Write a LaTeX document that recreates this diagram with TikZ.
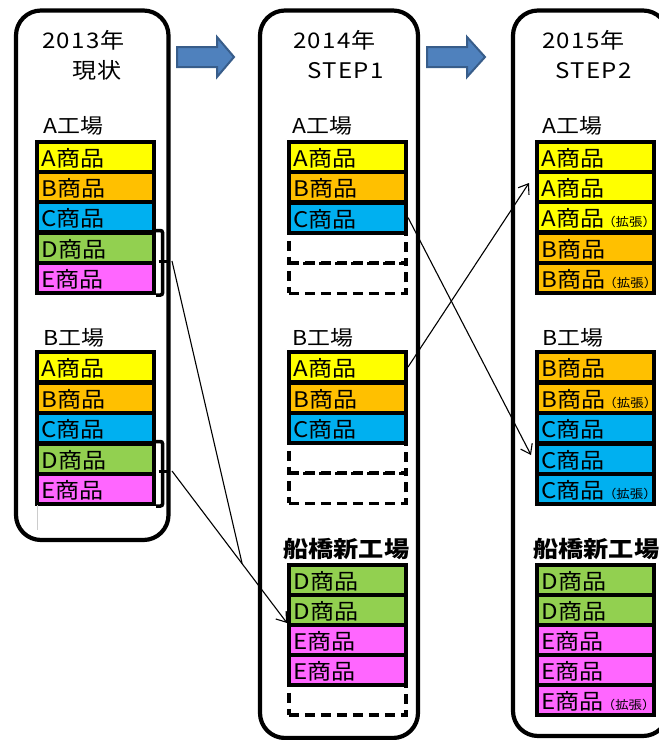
\documentclass[tikz,border=0pt]{standalone}
\usepackage{fontspec}
\setmainfont{Noto Sans CJK JP}[FakeStretch=1.12]
\usetikzlibrary{arrows.meta,calc}
\definecolor{cA}{HTML}{FFFF00}
\definecolor{cB}{HTML}{FFC000}
\definecolor{cC}{HTML}{00B0F0}
\definecolor{cD}{HTML}{92D050}
\definecolor{cE}{HTML}{FF66FF}
\definecolor{arrfill}{HTML}{4F81BD}
\definecolor{arrline}{HTML}{385D8A}
\newcommand{\kakucho}{{\fontsize{12}{12}\selectfont\kern-2pt （拡張）}}
\tikzset{
  panel/.style={line width=4.2pt, rounded corners=25pt},
  prow/.style={draw, line width=4pt, minimum width=117pt, minimum height=30pt,
    anchor=north west, inner xsep=4.5pt, inner ysep=0pt, text width=108pt, align=left,
    font=\fontsize{21.5}{21.5}\selectfont, text height=19pt, text depth=0pt},
  emptyrow/.style={draw, line width=3.8pt, dash pattern=on 10pt off 6pt,
    minimum width=117pt, minimum height=30pt, anchor=north west, inner sep=0pt},
  flabel/.style={anchor=base west, inner sep=0pt, font=\fontsize{20.5}{20.5}\selectfont},
  newlabel/.style={anchor=base west, inner sep=0pt, font=\fontsize{22.5}{22.5}\selectfont\bfseries},
  ttl/.style={anchor=base west, inner sep=0pt, font=\fontsize{21.5}{21.5}\selectfont\addfontfeature{LetterSpace=6}},
  blockarrow/.style={fill=arrfill, draw=arrline, line width=2pt, line join=miter},
  bracket/.style={line width=3.5pt, rounded corners=2pt},
  link/.style={line width=1.1pt},
  linkarrow/.style={line width=1.1pt, -{Straight Barb[length=9pt,width=13pt,line width=1.1pt]}},
}
\begin{document}
\begin{tikzpicture}[x=1pt,y=-1pt]
\useasboundingbox (0,0) rectangle (659,740);
\clip (0,0) rectangle (659,740);

% panels
\draw[panel] (16,10.5) rectangle (168.5,540);
\draw[panel] (260,10.5) rectangle (418,738);
\draw[panel] (513,10.5) rectangle (668,736);

% block arrows
\draw[blockarrow] (177,47)--(217,47)--(217,37)--(234,57)--(217,77)--(217,67)--(177,67)--cycle;
\draw[blockarrow] (427,47)--(467,47)--(467,37)--(485,57)--(467,77)--(467,67)--(427,67)--cycle;

% titles
\node[ttl] (t1a) at (42,48) {2013年};
\node[ttl] (t1b) at (72,78) {現状};
\node[ttl] (t2a) at (293,48) {2014年};
\node[ttl] (t2b) at (307,78) {STEP1};
\node[ttl] (t3a) at (542,48) {2015年};
\node[ttl] (t3b) at (555,78) {STEP2};

% ---------- left panel ----------
\node[flabel] (lA) at (43,133) {A工場};
\node[prow, fill=cA] (lA1) at (35,140) {A商品};
\node[prow, fill=cB] (lA2) at (35,170) {B商品};
\node[prow, fill=cC] (lA3) at (35,200) {C商品};
\node[prow, fill=cD] (lA4) at (35,230.5) {D商品};
\node[prow, fill=cE] (lA5) at (35,261) {E商品};
\node[flabel] (lB) at (43,345) {B工場};
\node[prow, fill=cA] (lB1) at (35,350) {A商品};
\node[prow, fill=cB] (lB2) at (35,380.5) {B商品};
\node[prow, fill=cC] (lB3) at (35,411) {C商品};
\node[prow, fill=cD] (lB4) at (35,441.5) {D商品};
\node[prow, fill=cE] (lB5) at (35,472) {E商品};
\draw[gray!40, line width=0.8pt] (37,505) -- (37,530);

% brackets
\coordinate (bA) at (168,261);
\coordinate (bB) at (168,471.5);
\draw[bracket] (lA4.north east) -- ++(6.5,0) |- (lA5.south east);
\draw[line width=3pt] (158.5,261) -- (bA);
\draw[bracket] (lB4.north east) -- ++(6.5,0) |- (lB5.south east);
\draw[line width=3pt] (158.5,471.5) -- (bB);

% ---------- middle panel ----------
\node[flabel] (mA) at (292,133) {A工場};
\node[emptyrow] (mAx1) at (287,231) {};
\node[emptyrow] (mAx2) at (287,261.5) {};
\node[prow, fill=cA] (mA1) at (287,140) {A商品};
\node[prow, fill=cB] (mA2) at (287,170) {B商品};
\node[prow, fill=cC] (mA3) at (287,200.5) {C商品};
\node[flabel] (mB) at (292,345) {B工場};
\node[emptyrow] (mBx1) at (287,441) {};
\node[emptyrow] (mBx2) at (287,471.5) {};
\node[prow, fill=cA] (mB1) at (287,350) {A商品};
\node[prow, fill=cB] (mB2) at (287,380.5) {B商品};
\node[prow, fill=cC] (mB3) at (287,411) {C商品};
\node[newlabel] (mN) at (283,557) {船橋新工場};
\node[emptyrow] (mNx) at (287,683) {};
\node[prow, fill=cD] (mN1) at (287,563) {D商品};
\node[prow, fill=cD] (mN2) at (287,593) {D商品};
\node[prow, fill=cE] (mN3) at (287,623) {E商品};
\node[prow, fill=cE] (mN4) at (287,653) {E商品};

% ---------- right panel ----------
\node[flabel] (rA) at (542,133) {A工場};
\node[prow, fill=cA] (rA1) at (535,140) {A商品};
\node[prow, fill=cA] (rA2) at (535,170) {A商品};
\node[prow, fill=cA] (rA3) at (535,200) {A商品\kakucho};
\node[prow, fill=cB] (rA4) at (535,230.5) {B商品};
\node[prow, fill=cB] (rA5) at (535,261) {B商品\kakucho};
\node[flabel] (rB) at (542,345) {B工場};
\node[prow, fill=cB] (rB1) at (535,350) {B商品};
\node[prow, fill=cB] (rB2) at (535,380.5) {B商品\kakucho};
\node[prow, fill=cC] (rB3) at (535,411) {C商品};
\node[prow, fill=cC] (rB4) at (535,441.5) {C商品};
\node[prow, fill=cC] (rB5) at (535,472) {C商品\kakucho};
\node[newlabel] (rN) at (533,557) {船橋新工場};
\node[prow, fill=cD] (rN1) at (535,563) {D商品};
\node[prow, fill=cD] (rN2) at (535,593) {D商品};
\node[prow, fill=cE] (rN3) at (535,623) {E商品};
\node[prow, fill=cE] (rN4) at (535,653) {E商品};
\node[prow, fill=cE] (rN5) at (535,683) {E商品\kakucho};

% ---------- connectors ----------
\coordinate (bAs) at (172,261);
\coordinate (bBs) at (172,471);
\coordinate (join) at ($(bBs)!0.61!(mN3.north west)$);
\coordinate (rAin) at (529,183);
\coordinate (rBin) at (531,455);
\draw[linkarrow] (bBs) -- (mN3.north west);
\draw[link] (bAs) -- (join);
\draw[linkarrow] (mA3.east) -- (rBin);
\draw[linkarrow] (mB1.east) -- (rAin);
\end{tikzpicture}
\end{document}
